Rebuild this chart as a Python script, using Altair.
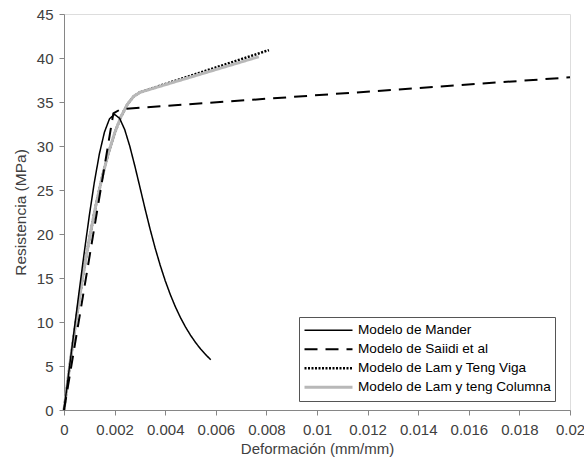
import altair as alt
import pandas as pd

series_names = [
    "Modelo de Mander",
    "Modelo de Saiidi et al",
    "Modelo de Lam y Teng Viga",
    "Modelo de Lam y teng Columna",
]

mander_x = [0, 0.0002, 0.0004, 0.0006, 0.0008, 0.001, 0.0012, 0.0014, 0.0016, 0.0018,
            0.002, 0.0022, 0.0024, 0.0026, 0.0028, 0.003, 0.0032, 0.0034, 0.0036, 0.0038,
            0.004, 0.0042, 0.0044, 0.0046, 0.0048, 0.005, 0.0052, 0.0054, 0.0056, 0.0058]
mander_y = [0, 4.52, 9.03, 13.51, 17.90, 22.08, 25.89, 29.13, 31.59, 33.10,
            33.6, 33.14, 31.86, 29.98, 27.73, 25.33, 22.91, 20.59, 18.43, 16.47,
            14.70, 13.13, 11.74, 10.52, 9.44, 8.50, 7.67, 6.93, 6.29, 5.71]

saiidi_x = [0, 0.00195, 0.00225, 0.02]
saiidi_y = [0, 33.7, 34.2, 37.8]

viga_x = [0, 0.00025, 0.0005, 0.00075, 0.001, 0.00125, 0.0015, 0.00175, 0.002,
          0.00225, 0.0025, 0.00275, 0.003, 0.0081]
viga_y = [0, 5.55, 10.64, 15.27, 19.43, 23.13, 26.37, 29.15, 31.46,
          33.32, 34.71, 35.63, 36.10, 40.9]

col_x = [0, 0.00025, 0.0005, 0.00075, 0.001, 0.00125, 0.0015, 0.00175, 0.002,
         0.00225, 0.0025, 0.00275, 0.003, 0.0077]
col_y = [0, 5.55, 10.64, 15.27, 19.43, 23.13, 26.37, 29.15, 31.46,
         33.32, 34.71, 35.63, 36.10, 40.15]

x_ticks = [0, 0.002, 0.004, 0.006, 0.008, 0.01, 0.012, 0.014, 0.016, 0.018, 0.02]
y_ticks = [0, 5, 10, 15, 20, 25, 30, 35, 40, 45]

rows = []
for name, xs, ys in [
    (series_names[2], viga_x, viga_y),
    (series_names[3], col_x, col_y),
    (series_names[0], mander_x, mander_y),
    (series_names[1], saiidi_x, saiidi_y),
]:
    for xv, yv in zip(xs, ys):
        rows.append({"serie": name, "def": xv, "res": yv})
df = pd.DataFrame(rows)

FONT = "Liberation Sans"
TXT = "#404040"
AX = "#868686"

legend = alt.Legend(
    title=None,
    orient="none",
    legendX=235,
    legendY=303,
    symbolType="stroke",
    symbolSize=2304,
    clipHeight=18.5,
    rowPadding=0,
    labelFontSize=13.6,
    labelFont=FONT,
    labelColor="#000000",
    labelOffset=4,
    strokeColor="#555555",
    fillColor="white",
    padding=4,
    labelLimit=400,
)

chart = (
    alt.Chart(df)
    .mark_line(strokeCap="butt", strokeJoin="round")
    .encode(
        x=alt.X(
            "def:Q",
            scale=alt.Scale(domain=[0, 0.02], nice=False, zero=False),
            axis=alt.Axis(
                title="Deformación (mm/mm)",
                values=x_ticks,
                format="~g",
                grid=False,
                tickSize=5,
                labelPadding=7,
                labelFontSize=15,
                labelFont=FONT,
                labelColor=TXT,
                titleFontSize=15,
                titleFont=FONT,
                titleFontWeight="normal",
                titleColor=TXT,
                titleBaseline="alphabetic",
                titleY=43,
                domainColor=AX,
                tickColor=AX,
                labelFlush=False,
                labelOverlap=False,
            ),
        ),
        y=alt.Y(
            "res:Q",
            scale=alt.Scale(domain=[0, 45], nice=False),
            axis=alt.Axis(
                title="Resistencia (MPa)",
                values=y_ticks,
                grid=False,
                tickSize=5,
                labelPadding=6,
                labelFontSize=15,
                labelFont=FONT,
                labelColor=TXT,
                titleFontSize=15.5,
                titleFont=FONT,
                titleFontWeight="normal",
                titleColor=TXT,
                titleBaseline="alphabetic",
                titleX=-39,
                domainColor=AX,
                tickColor=AX,
                labelOverlap=False,
            ),
        ),
        color=alt.Color(
            "serie:N",
            scale=alt.Scale(domain=series_names,
                            range=["#000000", "#000000", "#000000", "#b8b8b8"]),
            legend=legend,
        ),
        strokeDash=alt.StrokeDash(
            "serie:N",
            scale=alt.Scale(domain=series_names,
                            range=[[1, 0], [13, 8], [2, 1.5], [1, 0]]),
            legend=legend,
        ),
        strokeWidth=alt.StrokeWidth(
            "serie:N",
            scale=alt.Scale(domain=series_names, range=[1.5, 3, 2.5, 3]),
            legend=legend,
        ),
    )
    .properties(
        width=506,
        height=396,
        padding={"left": 64, "top": 14, "right": 14, "bottom": 55},
        autosize=alt.AutoSizeParams(type="none"),
    )
    .configure_view(stroke=None)
    .configure(background="white")
)

chart.save("out.html", embed_options={"renderer": "svg", "actions": False})
